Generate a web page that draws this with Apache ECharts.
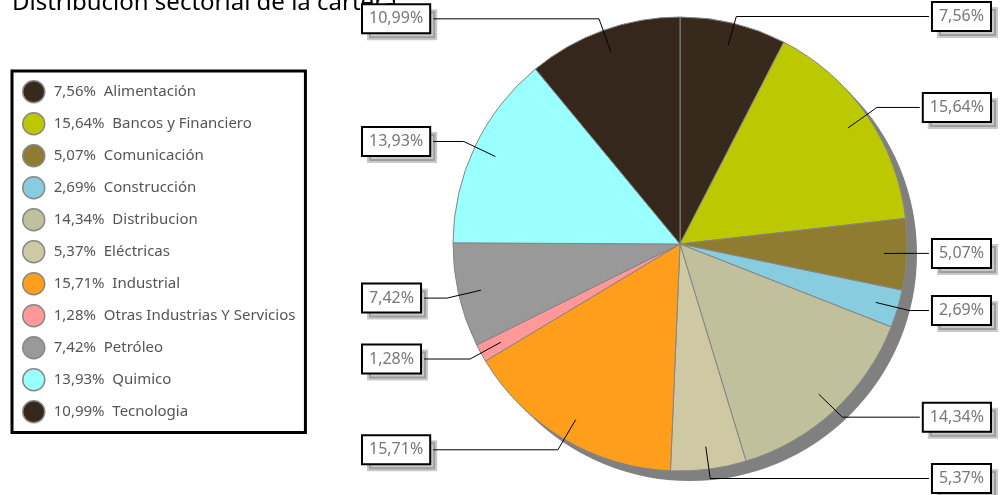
<!DOCTYPE html>
<html><head><meta charset="utf-8">
<script src="https://cdn.jsdelivr.net/npm/echarts@6/dist/echarts.min.js"></script>
<style>html,body{margin:0;padding:0;background:#fff}#c{width:1000px;height:495px}</style>
</head><body><div id="c"></div>
<script>
const titleText = 'Distribución sectorial de la cartera';
const categories = ['Alimentación','Bancos y Financiero','Comunicación','Construcción','Distribucion','Eléctricas','Industrial','Otras Industrias Y Servicios','Petróleo','Quimico','Tecnologia'];
const values = [7.56, 15.64, 5.07, 2.69, 14.34, 5.37, 15.71, 1.28, 7.42, 13.93, 10.99];
const colors = ['#38291d','#bcc800','#8f7c31','#88cce0','#c0c09d','#cfc9a3','#ff9e1b','#ff9999','#999999','#99ffff','#35271b'];

const fmt = v => v.toFixed(2).replace('.', ',') + '%';
const valueByName = {};
categories.forEach((n, i) => { valueByName[n] = values[i]; });

// pie placement box (series view rect) and geometry
const BOX_L = 358, BOX_R = 5, W = 1000, H = 495;
const BOX_W = W - BOX_L - BOX_R;
const CX = 680, CY = 244, R = 227, SH = 10;
const pct = (v, total) => (v / total * 100) + '%';
const FONT = 'Noto Sans';

const mainData = categories.map((n, i) => ({ name: n, value: values[i], itemStyle: { color: colors[i] } }));
const labelData = categories.map((n, i) => ({ name: n, value: values[i] }));

const box = { left: BOX_L, right: BOX_R, top: 0, bottom: 0 };

const chart = echarts.init(document.getElementById('c'), null, { renderer: 'canvas' });
chart.setOption({
  animation: false,
  backgroundColor: '#fff',
  title: {
    text: titleText, left: 12, top: -9, padding: 0, z: 1,
    textStyle: { fontFamily: FONT, fontSize: 24, fontWeight: 'normal', color: '#000' }
  },
  legend: {
    data: categories,
    orient: 'vertical', left: 12, top: 71,
    padding: [9, 10, 9, 10],
    borderColor: '#000', borderWidth: 3, backgroundColor: '#fff',
    itemWidth: 22, itemHeight: 22, itemGap: 8.5, icon: 'circle',
    itemStyle: { borderColor: '#888', borderWidth: 1.5 },
    selectedMode: false,
    textStyle: { fontFamily: FONT, fontSize: 15, color: '#555', padding: [0, 0, 0, 4] },
    formatter: name => fmt(valueByName[name]) + '  ' + name
  },
  series: [
    Object.assign({
      type: 'pie', name: 'sombra', silent: true, z: 1,
      center: [pct(CX + SH - BOX_L, BOX_W), pct(CY + SH, H)], radius: R,
      label: { show: false }, labelLine: { show: false },
      itemStyle: { color: '#808080' },
      emphasis: { disabled: true },
      data: [{ name: 'sombra', value: 1 }]
    }, box),
    Object.assign({
      type: 'pie', name: 'sectores', silent: true, z: 2,
      center: [pct(CX - BOX_L, BOX_W), pct(CY, H)], radius: R, startAngle: 90, clockwise: true,
      label: { show: false }, labelLine: { show: false },
      itemStyle: { borderColor: '#858585', borderWidth: 1 },
      emphasis: { disabled: true },
      data: mainData
    }, box),
    Object.assign({
      type: 'pie', name: 'etiquetas', silent: true, z: 10,
      center: [pct(CX - BOX_L, BOX_W), pct(CY, H)], radius: R * 0.9, startAngle: 90, clockwise: true,
      itemStyle: { color: 'rgba(0,0,0,0)', borderWidth: 0 },
      emphasis: { disabled: true },
      label: {
        show: true, position: 'outside', alignTo: 'edge', edgeDistance: 5, distanceToLabelLine: 0,
        overflow: 'none',
        formatter: p => fmt(p.value),
        fontFamily: FONT, fontSize: 16, color: '#777',
        backgroundColor: '#fff', borderColor: '#000', borderWidth: 2,
        padding: [6, 6, 5, 6],
        shadowColor: 'rgba(0,0,0,0.21)', shadowOffsetX: 6, shadowOffsetY: 6, shadowBlur: 0
      },
      labelLine: {
        show: true, length: 35, length2: 4, smooth: false,
        lineStyle: { color: '#000', width: 1 }
      },
      data: labelData
    }, box)
  ]
});
</script>
</body></html>
